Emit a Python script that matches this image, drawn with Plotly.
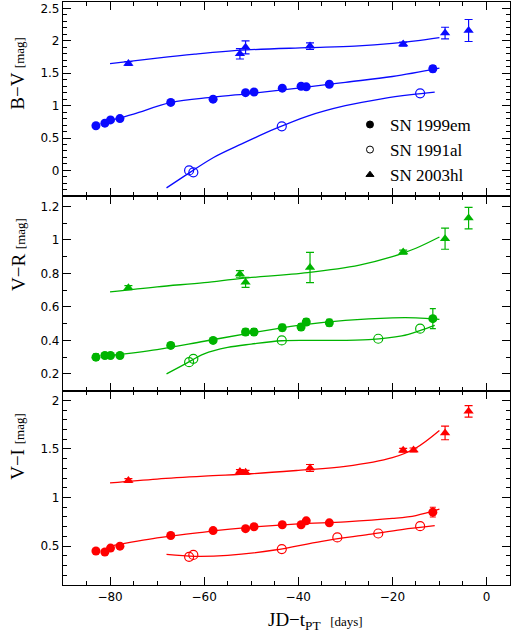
import plotly.graph_objects as go
from plotly.subplots import make_subplots

# epochs (JD - t_PT, days)
t_em = [-83.0, -81.1, -79.9, -77.9, -67.1, -58.1, -51.2, -49.4, -43.4, -39.4, -38.3, -33.4, -11.4]
t_al_bv = [-63.2, -62.3, -43.5, -14.1]
t_al_vr = [-63.2, -62.3, -43.5, -23.0, -14.1]
t_al_vi = [-63.2, -62.3, -43.5, -31.7, -23.0, -14.1]
t_hl = [-76.1, -52.4, -51.2, -37.5, -17.7, -8.8, -3.8]
t_hl_vi = [-76.1, -52.4, -51.2, -37.5, -17.7, -15.5, -8.8, -3.8]

# B-V
bv_em = [0.69, 0.73, 0.78, 0.80, 1.05, 1.10, 1.20, 1.21, 1.27, 1.30, 1.29, 1.33, 1.57]
bv_em_err = [0.015] * 12 + [0.05]
bv_al = [0.0, -0.03, 0.68, 1.19]
bv_hl = [1.65, 1.80, 1.90, 1.92, 1.95, 2.12, 2.16]
bv_hl_err = [0.03, 0.08, 0.10, 0.05, 0.03, 0.09, 0.17]

# V-R
vr_em = [0.30, 0.31, 0.31, 0.31, 0.37, 0.40, 0.45, 0.45, 0.476, 0.48, 0.51, 0.505, 0.53]
vr_em_err = [0.02, 0.012, 0.012, 0.012, 0.015, 0.012, 0.02, 0.02, 0.02, 0.02, 0.02, 0.02, 0.06]
vr_al = [0.27, 0.29, 0.40, 0.41, 0.47]
vr_hl = [0.715, 0.797, 0.747, 0.835, 0.927, 1.007, 1.13]
vr_hl_err = [0.012, 0.02, 0.03, 0.09, 0.012, 0.063, 0.064]

# V-I
vi_em = [0.45, 0.44, 0.48, 0.50, 0.61, 0.66, 0.68, 0.70, 0.72, 0.72, 0.76, 0.74, 0.85]
vi_em_err = [0.01] * 12 + [0.05]
vi_al = [0.39, 0.41, 0.47, 0.59, 0.63, 0.705]
vi_hl = [1.175, 1.267, 1.26, 1.305, 1.487, 1.49, 1.665, 1.887]
vi_hl_err = [0.02, 0.02, 0.02, 0.035, 0.02, 0.02, 0.07, 0.06]

# fitted curves
fit_t9 = [-80, -75, -67, -58, -50, -40, -30, -20, -10]
bv_em_fit = [0.77, 0.87, 1.05, 1.13, 1.19, 1.27, 1.36, 1.45, 1.58]
fit_t_al_bv = [-68, -63, -58, -52, -45, -38, -30, -22, -16, -11]
bv_al_fit = [-0.27, -0.03, 0.2, 0.41, 0.64, 0.84, 1.0, 1.11, 1.17, 1.21]
fit_t_hl_bv = [-80, -70, -62, -51, -38, -28, -20, -15, -10]
bv_hl_fit = [1.65, 1.735, 1.795, 1.86, 1.895, 1.92, 1.96, 2.0, 2.05]

fit_t10 = [-80, -70, -60, -50, -40, -30, -20, -15, -10]
vr_em_fit = [0.31, 0.345, 0.395, 0.445, 0.49, 0.52, 0.535, 0.535, 0.525]
fit_t_al_vr = [-68, -64, -60, -55, -50, -43.5, -35, -25, -18, -14, -11]
vr_al_fit = [0.20, 0.26, 0.32, 0.358, 0.378, 0.398, 0.40, 0.405, 0.427, 0.46, 0.49]
fit_t_hl_vr = [-80, -70, -60, -52, -38, -27, -20, -15, -10]
vr_hl_fit = [0.69, 0.72, 0.745, 0.77, 0.805, 0.85, 0.90, 0.95, 1.017]

vi_em_fit = [0.50, 0.585, 0.645, 0.695, 0.73, 0.75, 0.785, 0.815, 0.88]
fit_t_al_vi = [-68, -62, -55, -45, -35, -25, -18, -11]
vi_al_fit = [0.415, 0.395, 0.405, 0.46, 0.55, 0.62, 0.67, 0.71]
vi_hl_fit = [1.15, 1.19, 1.22, 1.245, 1.28, 1.32, 1.41, 1.51, 1.69]

blue = "#0a0aff"
green = "#00b400"
red = "#ff0000"

fig = make_subplots(rows=3, cols=1, shared_xaxes=True, vertical_spacing=0)


def add_panel(row, color, em, em_err, t_al, al, hl_t, hl, hl_err, fits):
    for ft, fv in fits:
        fig.add_trace(
            go.Scatter(
                x=ft, y=fv, mode="lines", line=dict(color=color, width=1.3, shape="spline"),
                showlegend=False, hoverinfo="skip",
            ),
            row=row, col=1,
        )
    fig.add_trace(
        go.Scatter(
            x=t_em, y=em, mode="markers",
            marker=dict(color=color, size=9, symbol="circle"),
            error_y=dict(type="data", array=em_err, color=color, thickness=1.2, width=3),
            showlegend=False,
        ),
        row=row, col=1,
    )
    fig.add_trace(
        go.Scatter(
            x=t_al, y=al, mode="markers",
            marker=dict(color=color, size=9, symbol="circle-open",
                        line=dict(color=color, width=1.2)),
            showlegend=False,
        ),
        row=row, col=1,
    )
    fig.add_trace(
        go.Scatter(
            x=hl_t, y=hl, mode="markers",
            marker=dict(color=color, size=9, symbol="triangle-up"),
            error_y=dict(type="data", array=hl_err, color=color, thickness=1.2, width=4),
            showlegend=False,
        ),
        row=row, col=1,
    )


add_panel(1, blue, bv_em, bv_em_err, t_al_bv, bv_al, t_hl, bv_hl, bv_hl_err,
          [(fit_t9, bv_em_fit), (fit_t_al_bv, bv_al_fit), (fit_t_hl_bv, bv_hl_fit)])
add_panel(2, green, vr_em, vr_em_err, t_al_vr, vr_al, t_hl, vr_hl, vr_hl_err,
          [(fit_t10, vr_em_fit), (fit_t_al_vr, vr_al_fit), (fit_t_hl_vr, vr_hl_fit)])
add_panel(3, red, vi_em, vi_em_err, t_al_vi, vi_al, t_hl_vi, vi_hl, vi_hl_err,
          [(fit_t10, vi_em_fit), (fit_t_al_vi, vi_al_fit), (fit_t10, vi_hl_fit)])

# legend entries
for name, sym in [("SN 1999em", "circle"), ("SN 1991al", "circle-open"), ("SN 2003hl", "triangle-up")]:
    fig.add_trace(
        go.Scatter(
            x=[None], y=[None], mode="markers", name=name,
            marker=dict(color="black", size=7, symbol=sym, line=dict(color="black", width=1)),
        ),
        row=1, col=1,
    )

tick_font = dict(family="DejaVu Sans", size=12, color="black")
axis_common = dict(
    showline=True, linecolor="black", linewidth=1.2, mirror="allticks",
    ticks="inside", ticklen=8, tickcolor="black", tickwidth=1,
    showgrid=False, zeroline=False, tickfont=tick_font,
)

for r in (1, 2, 3):
    fig.update_xaxes(
        range=[-90, 5], dtick=20, tick0=0,
        minor=dict(ticks="inside", ticklen=4, dtick=5, tickcolor="black", showgrid=False),
        row=r, col=1, **axis_common,
    )

fig.update_yaxes(range=[-0.4, 2.6], dtick=0.5, tick0=0,
                 minor=dict(ticks="inside", ticklen=4, dtick=0.1, tickcolor="black"),
                 row=1, col=1, **axis_common)
fig.update_yaxes(range=[0.1, 1.26], dtick=0.2, tick0=0,
                 minor=dict(ticks="inside", ticklen=4, dtick=0.1, tickcolor="black"),
                 row=2, col=1, **axis_common)
fig.update_yaxes(range=[0.1, 2.1], dtick=0.5, tick0=0,
                 minor=dict(ticks="inside", ticklen=4, dtick=0.1, tickcolor="black"),
                 row=3, col=1, **axis_common)

label_font = dict(family="Liberation Serif", size=19, color="black")
for text, yp in [("B\u2212V", 0.877), ("V\u2212R", 0.566), ("V\u2212I", 0.237)]:
    fig.add_annotation(
        text=text + ' <span style="font-size:13px">[mag]</span>',
        xref="paper", yref="paper", x=0, y=yp, xshift=-45,
        xanchor="center", yanchor="middle", textangle=-90,
        showarrow=False, font=label_font,
    )

fig.add_annotation(
    text='JD\u2212t<sub>PT</sub>  <span style="font-size:13px">[days]</span>',
    xref="paper", yref="paper", x=0.564, y=0, yshift=-36,
    xanchor="center", yanchor="middle", showarrow=False, font=label_font,
)

fig.update_layout(
    width=517,
    height=639,
    margin=dict(l=63, r=7, t=2, b=54),
    plot_bgcolor="white",
    paper_bgcolor="white",
    showlegend=True,
    legend=dict(
        x=0.642, y=0.82, xanchor="left", yanchor="top",
        font=dict(family="Liberation Serif", size=17, color="black"),
        bgcolor="rgba(0,0,0,0)", itemwidth=30, tracegroupgap=0,
    ),
)

fig.write_html(
    "out.html",
    config={"displayModeBar": False},
    post_script="document.body.style.margin = '0px';",
)
